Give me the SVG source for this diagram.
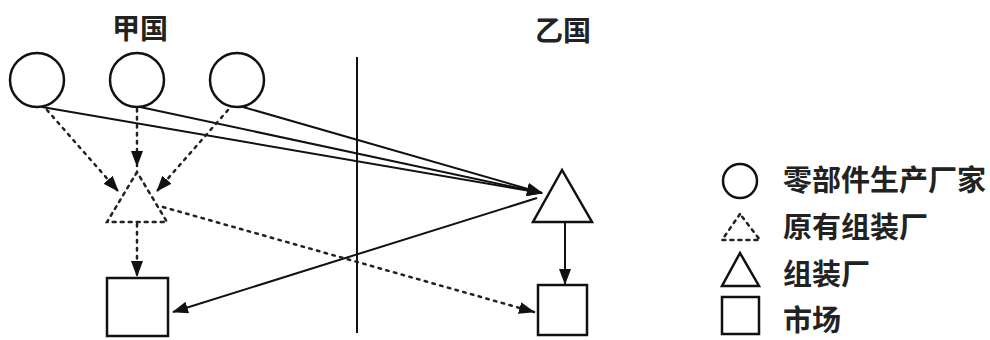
<svg xmlns="http://www.w3.org/2000/svg" width="990" height="340" viewBox="0 0 990 340">
<style>
.shape{fill:#fff;stroke:#111;stroke-width:2.5}
.dotshape{fill:none;stroke:#222;stroke-width:2.5;stroke-dasharray:3 5;stroke-linecap:round}
.solid{fill:none;stroke:#111;stroke-width:2}
.dotted{fill:none;stroke:#222;stroke-width:2.5;stroke-dasharray:2.5 5.5;stroke-linecap:round}
text{font-family:"Noto Sans CJK SC","Noto Sans",sans-serif;font-weight:bold;font-size:28px;fill:#222}
.leg{font-size:29px}
</style>
<defs>
<marker id="ah" markerUnits="userSpaceOnUse" markerWidth="16" markerHeight="12" refX="15" refY="6" orient="auto">
<path d="M0,0 L16,6 L0,12 Z" fill="#111"/>
</marker>
</defs>
<g id="titles">
<text x="112" y="39">甲国</text>
<text x="535" y="41">乙国</text>
</g>
<line id="border" x1="357" y1="57" x2="357" y2="333" stroke="#111" stroke-width="2"/>
<g id="connectors">
<line class="solid" x1="42" y1="107" x2="542" y2="193" marker-end="url(#ah)"/>
<line class="solid" x1="140" y1="107" x2="542" y2="193" marker-end="url(#ah)"/>
<line class="solid" x1="243" y1="107" x2="542" y2="193" marker-end="url(#ah)"/>
<line class="solid" x1="537" y1="198" x2="173" y2="312" marker-end="url(#ah)"/>
<line class="solid" x1="565" y1="223" x2="565" y2="284" marker-end="url(#ah)"/>
<line class="dotted" x1="47" y1="110" x2="118" y2="191" marker-end="url(#ah)"/>
<line class="dotted" x1="137" y1="109" x2="137" y2="166" marker-end="url(#ah)"/>
<line class="dotted" x1="228" y1="110" x2="157" y2="191" marker-end="url(#ah)"/>
<line class="dotted" x1="137" y1="224" x2="137" y2="276" marker-end="url(#ah)"/>
<line class="dotted" x1="163" y1="207" x2="534" y2="312" marker-end="url(#ah)"/>
</g>
<g id="supplier1"><circle class="shape" cx="37" cy="80" r="27"/></g>
<g id="supplier2"><circle class="shape" cx="137" cy="80" r="27"/></g>
<g id="supplier3"><circle class="shape" cx="237" cy="80" r="27"/></g>
<g id="old-assembly"><polygon class="dotshape" points="137,172 107,222 167,222"/></g>
<g id="assembly"><polygon class="shape" points="562,170 533,222 592,222"/></g>
<g id="market-a"><rect class="shape" x="107" y="278" width="61" height="58"/></g>
<g id="market-b"><rect class="shape" x="538" y="285" width="49" height="50"/></g>
<g id="legend">
<circle class="shape" cx="740" cy="181" r="17"/>
<text class="leg" x="783" y="191">零部件生产厂家</text>
<polygon class="dotshape" points="740,214 722,240 760,240"/>
<text class="leg" x="783" y="238">原有组装厂</text>
<polygon class="shape" points="740,253 722,286 759,286"/>
<text class="leg" x="783" y="285">组装厂</text>
<rect class="shape" x="722" y="297" width="37" height="37"/>
<text class="leg" x="783" y="331">市场</text>
</g>
</svg>
